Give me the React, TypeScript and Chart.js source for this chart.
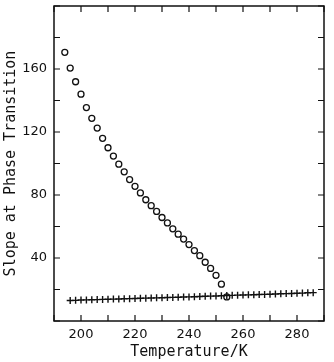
import { useEffect, useRef } from 'react';
import { Chart, registerables } from 'chart.js';

Chart.register(...registerables);

// Open circles
const circleTemps = [194, 196, 198, 200, 202, 204, 206, 208, 210, 212, 214, 216, 218, 220, 222, 224, 226, 228, 230, 232, 234, 236, 238, 240, 242, 244, 246, 248, 250, 252, 254];
const circleSlopes = [170.6, 160.6, 151.9, 144.0, 135.5, 128.7, 122.5, 116.0, 110.0, 104.7, 99.6, 94.7, 89.8, 85.5, 81.3, 77.0, 73.2, 69.6, 65.7, 62.3, 58.5, 55.1, 52.0, 48.5, 44.7, 41.5, 37.3, 33.4, 29.0, 23.4, 15.3];

// Crosses
const crossTemps = [196, 198, 200, 202, 204, 206, 208, 210, 212, 214, 216, 218, 220, 222, 224, 226, 228, 230, 232, 234, 236, 238, 240, 242, 244, 246, 248, 250, 252, 254, 256, 258, 260, 262, 264, 266, 268, 270, 272, 274, 276, 278, 280, 282, 284, 286];
const crossSlopes = [13.0, 13.1, 13.3, 13.4, 13.5, 13.6, 13.7, 13.8, 13.9, 14.0, 14.1, 14.2, 14.3, 14.4, 14.5, 14.6, 14.7, 14.8, 14.9, 15.0, 15.1, 15.2, 15.3, 15.4, 15.6, 15.7, 15.8, 15.9, 16.0, 16.2, 16.3, 16.4, 16.5, 16.6, 16.7, 16.8, 16.9, 17.0, 17.1, 17.3, 17.4, 17.5, 17.6, 17.7, 17.9, 18.0];

const xTickLabels = [200, 220, 240, 260, 280];
const yTickLabels = [40, 80, 120, 160];

const INK = '#111';

const framePlugin = {
  id: 'frame',
  beforeDatasetsDraw(chart: any) {
    const { ctx, chartArea, scales } = chart;
    const { left, right, top, bottom } = chartArea;
    const x = scales.x;
    const y = scales.y;
    const L = 6;
    ctx.save();
    ctx.strokeStyle = INK;
    ctx.lineWidth = 1.5;
    ctx.strokeRect(left, top, right - left, bottom - top);
    ctx.lineWidth = 1.2;
    ctx.beginPath();
    x.ticks.forEach((t: any) => {
      const px = x.getPixelForValue(t.value);
      ctx.moveTo(px, bottom);
      ctx.lineTo(px, bottom - L);
      ctx.moveTo(px, top);
      ctx.lineTo(px, top + L);
    });
    y.ticks.forEach((t: any) => {
      const py = y.getPixelForValue(t.value);
      ctx.moveTo(left, py);
      ctx.lineTo(left + L, py);
      ctx.moveTo(right, py);
      ctx.lineTo(right - L, py);
    });
    ctx.stroke();
    ctx.restore();
  },
};

export default function App() {
  const canvasRef = useRef<HTMLCanvasElement | null>(null);

  useEffect(() => {
    document.body.style.margin = '0';
    const canvas = canvasRef.current;
    if (!canvas) return;
    const chart = new Chart(canvas, {
      type: 'scatter',
      data: {
        datasets: [
          {
            label: 'circles',
            data: circleTemps.map((t, i) => ({ x: t, y: circleSlopes[i] })),
            pointStyle: 'circle',
            pointRadius: 3,
            borderWidth: 1.3,
            borderColor: INK,
            backgroundColor: 'rgba(0,0,0,0)',
            showLine: false,
          },
          {
            label: 'crosses',
            data: crossTemps.map((t, i) => ({ x: t, y: crossSlopes[i] })),
            pointStyle: 'cross',
            pointRadius: 3.5,
            borderWidth: 1.4,
            borderColor: INK,
            backgroundColor: INK,
            showLine: false,
          },
        ],
      },
      options: {
        responsive: false,
        animation: false,
        events: [],
        layout: { padding: { top: 6, right: 10, left: 0, bottom: 0 } },
        plugins: {
          legend: { display: false },
          tooltip: { enabled: false },
        },
        scales: {
          x: {
            type: 'linear',
            min: 190,
            max: 290,
            afterFit: (s: any) => {
              s.height = 41;
              s.paddingLeft = 0;
              s.paddingRight = 0;
            },
            grid: { display: false, drawTicks: false },
            border: { display: false },
            ticks: {
              stepSize: 10,
              autoSkip: false,
              maxRotation: 0,
              padding: 6,
              color: INK,
              font: { family: 'DejaVu Sans', size: 13 },
              callback: (v: any) => (xTickLabels.includes(Number(v)) ? String(v) : ''),
            },
            title: {
              display: true,
              text: 'Temperature/K',
              color: INK,
              font: { family: 'DejaVu Sans Mono', size: 15 },
              padding: { top: 0, bottom: 1 },
            },
          },
          y: {
            type: 'linear',
            min: 0,
            max: 200,
            afterFit: (s: any) => {
              s.width = 54;
              s.paddingTop = 0;
              s.paddingBottom = 0;
            },
            grid: { display: false, drawTicks: false },
            border: { display: false },
            ticks: {
              stepSize: 20,
              autoSkip: false,
              padding: 7,
              color: INK,
              font: { family: 'DejaVu Sans', size: 13 },
              callback: (v: any) => (yTickLabels.includes(Number(v)) ? String(v) : ''),
            },
            title: {
              display: true,
              text: 'Slope at Phase Transition',
              color: INK,
              font: { family: 'DejaVu Sans Mono', size: 15 },
              padding: { top: 2, bottom: 0 },
            },
          },
        },
      },
      plugins: [framePlugin],
    });
    return () => chart.destroy();
  }, []);

  return <canvas ref={canvasRef} width={334} height={362} style={{ display: 'block' }} />;
}
